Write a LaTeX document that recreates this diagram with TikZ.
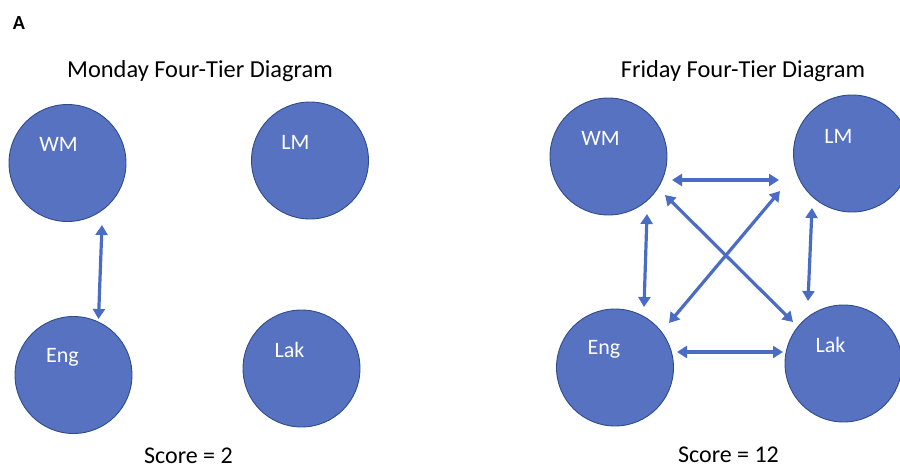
\documentclass[tikz,border=0pt]{standalone}
\usepackage{fontspec}
\setmainfont{Carlito}
\usetikzlibrary{arrows.meta}
\definecolor{cfill}{HTML}{5672C1}
\definecolor{cline}{HTML}{2F4C8A}
\definecolor{carrow}{HTML}{4A6CC4}
\begin{document}
\begin{tikzpicture}[x=1pt,y=-1pt,
  blob/.style={circle,fill=cfill,draw=cline,line width=0.9pt,minimum size=117pt,inner sep=0pt},
  blab/.style={text=white,font=\fontsize{22}{24}\selectfont,inner sep=0pt},
  ttl/.style={font=\fontsize{24.4}{26}\selectfont,inner sep=0pt},
  scr/.style={font=\fontsize{24}{26}\selectfont,inner sep=0pt},
  dbl/.style={carrow,line width=3.2pt,{Triangle[length=10pt,width=12pt]}-{Triangle[length=10pt,width=12pt]}}]
\useasboundingbox (0,0) rectangle (900,471);
\node[font=\bfseries\fontsize{20}{22}\selectfont,inner sep=0pt] (A) at (19,23) {A};
% Monday
\node[ttl] (t1) at (200,71) {Monday Four-Tier Diagram};
\node[blob] (wm1) at (67.5,163) {};
\node[blob] (lm1) at (310,160.5) {};
\node[blob] (eng1) at (73.5,375) {};
\node[blob] (lak1) at (301.5,368.5) {};
\node[blab] (wm1l) at (58.5,144) {WM};
\node[blab] (lm1l) at (295.5,142) {LM};
\node[blab] (eng1l) at (62.5,357) {Eng};
\node[blab] (lak1l) at (289.5,350) {Lak};
\node[scr] (s1) at (188.5,456) {Score = 2};
\coordinate (m1a) at (102,225);
\coordinate (m1b) at (98.5,319);
\draw[dbl] (m1a) -- (m1b);
% Friday
\node[ttl] (t2) at (743,71) {Friday Four-Tier Diagram};
\node[blob] (wm2) at (608.5,156.5) {};
\node[blob] (lm2) at (852,153.5) {};
\node[blob] (eng2) at (615,367.5) {};
\node[blob] (lak2) at (843.5,363.5) {};
\node[blab] (wm2l) at (600.5,138) {WM};
\node[blab] (lm2l) at (838.5,136) {LM};
\node[blab] (eng2l) at (604,349) {Eng};
\node[blab] (lak2l) at (830.5,345) {Lak};
\node[scr] (s2) at (728.5,455) {Score = 12};
\coordinate (a1) at (672,180); \coordinate (a2) at (779,180);
\coordinate (b1) at (677,352); \coordinate (b2) at (783,352);
\coordinate (c1) at (647,214); \coordinate (c2) at (644,307);
\coordinate (d1) at (812,208); \coordinate (d2) at (808,301);
\coordinate (e1) at (665,195); \coordinate (e2) at (793,322);
\coordinate (f1) at (669,323); \coordinate (f2) at (780,191);
\draw[dbl] (a1) -- (a2);
\draw[dbl] (b1) -- (b2);
\draw[dbl] (c1) -- (c2);
\draw[dbl] (d1) -- (d2);
\draw[dbl] (e1) -- (e2);
\draw[dbl] (f1) -- (f2);
\end{tikzpicture}
\end{document}
